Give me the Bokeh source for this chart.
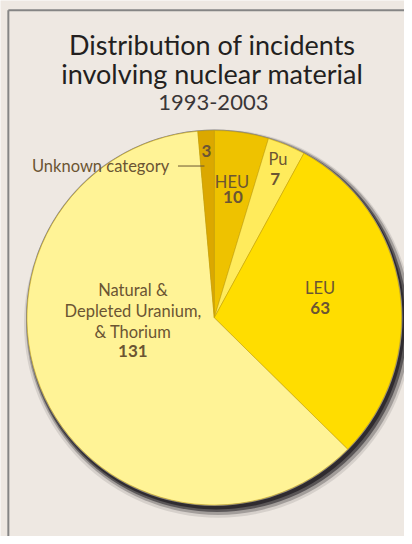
import math
from bokeh.plotting import figure
from bokeh.models import Range1d, ColumnDataSource
from bokeh.core.properties import value
from bokeh.embed import file_html
from bokeh.resources import INLINE

# ---- data ----
categories = ["HEU", "Pu", "LEU", "Natural & Depleted Uranium, & Thorium", "Unknown category"]
counts = [10, 7, 63, 131, 3]
colors = ["#EEC200", "#FFEB5C", "#FFDD00", "#FFF396", "#DBA800"]
title_lines = ["Distribution of incidents", "involving nuclear material"]
subtitle = "1993-2003"

W, H = 404, 536
RW, RH = 412, 544   # reference-pixel coordinate space
BG = "#EEE8E2"
TXT = "#6B5533"
FONT = "Lato"

def fy(py):  # reference y (down) -> data y (up)
    return RH - py

def fx(px):
    return px

p = figure(width=W, height=H, output_backend="svg", toolbar_location=None,
           x_range=Range1d(0, RW), y_range=Range1d(0, RH), min_border=0)
p.axis.visible = False
p.grid.visible = False
p.outline_line_color = None
p.background_fill_color = BG
p.border_fill_color = BG

# frame lines
p.line([fx(8), fx(8)], [fy(10), fy(600)], line_color="#858585", line_width=2)
p.line([fx(8), fx(450)], [fy(10), fy(10)], line_color="#858585", line_width=2)

cx, cy, r = fx(218), fy(322), 191

# shadow
for dx, dy, rr, a in [(4, 6, 198, 0.12), (4, 5, 196, 0.3), (3, 4, 194, 0.6), (2, 3, 192.5, 0.9)]:
    p.circle(x=[cx + dx], y=[cy - dy], radius=rr, fill_color="#2a272b", fill_alpha=a, line_color=None)
p.circle(x=[cx], y=[cy], radius=r + 1, fill_color="#8d8a8c", line_color=None)

# wedges, clockwise from top
total = sum(counts)
starts, ends = [], []
acc = 0
for c in counts:
    starts.append(math.radians(90 - acc / total * 360))
    acc += c
    ends.append(math.radians(90 - acc / total * 360))
src = ColumnDataSource(dict(cat=categories, n=counts, color=colors, start=starts, end=ends))
p.wedge(x=cx, y=cy, radius=r, start_angle="start", end_angle="end", direction="clock",
        fill_color="color", line_color="#C9A200", line_width=0.5, source=src)

# titles
p.text(x=[fx(216)] * 2, y=[fy(45), fy(74)], text=title_lines, text_font=value(FONT),
       text_font_size="27px", text_color="#231F20", text_align="center", text_baseline="middle")
p.text(x=[fx(217)], y=[fy(104)], text=[subtitle], text_font=value(FONT),
       text_font_size="22px", text_font_style="normal", text_color="#3a3637",
       text_align="center", text_baseline="middle")

# labels
def lab(px, py, t, bold=False, align="center", size="16.5px"):
    p.text(x=[fx(px)], y=[fy(py)], text=[t], text_font=value(FONT), text_font_size=size,
           text_color=TXT, text_align=align, text_baseline="middle",
           text_font_style="bold" if bold else "normal")

lab(172, 168, "Unknown category", align="right")
p.line([fx(181), fx(208)], [fy(168), fy(168)], line_color=TXT, line_width=1)
lab(210, 153, str(counts[4]), bold=True, size="17px")
lab(236, 184, "HEU")
lab(237, 199, str(counts[0]), bold=True, size="17px")
lab(283, 161, "Pu")
lab(280, 181, str(counts[1]), bold=True, size="17px")
lab(326, 292, "LEU")
lab(326, 312, str(counts[2]), bold=True, size="17px")
for i, t in enumerate(["Natural &", "Depleted Uranium,", "& Thorium"]):
    lab(135, 294 + 21 * i, t)
lab(135, 356, str(counts[3]), bold=True, size="17px")

open("out.html", "w").write(file_html(p, INLINE))
